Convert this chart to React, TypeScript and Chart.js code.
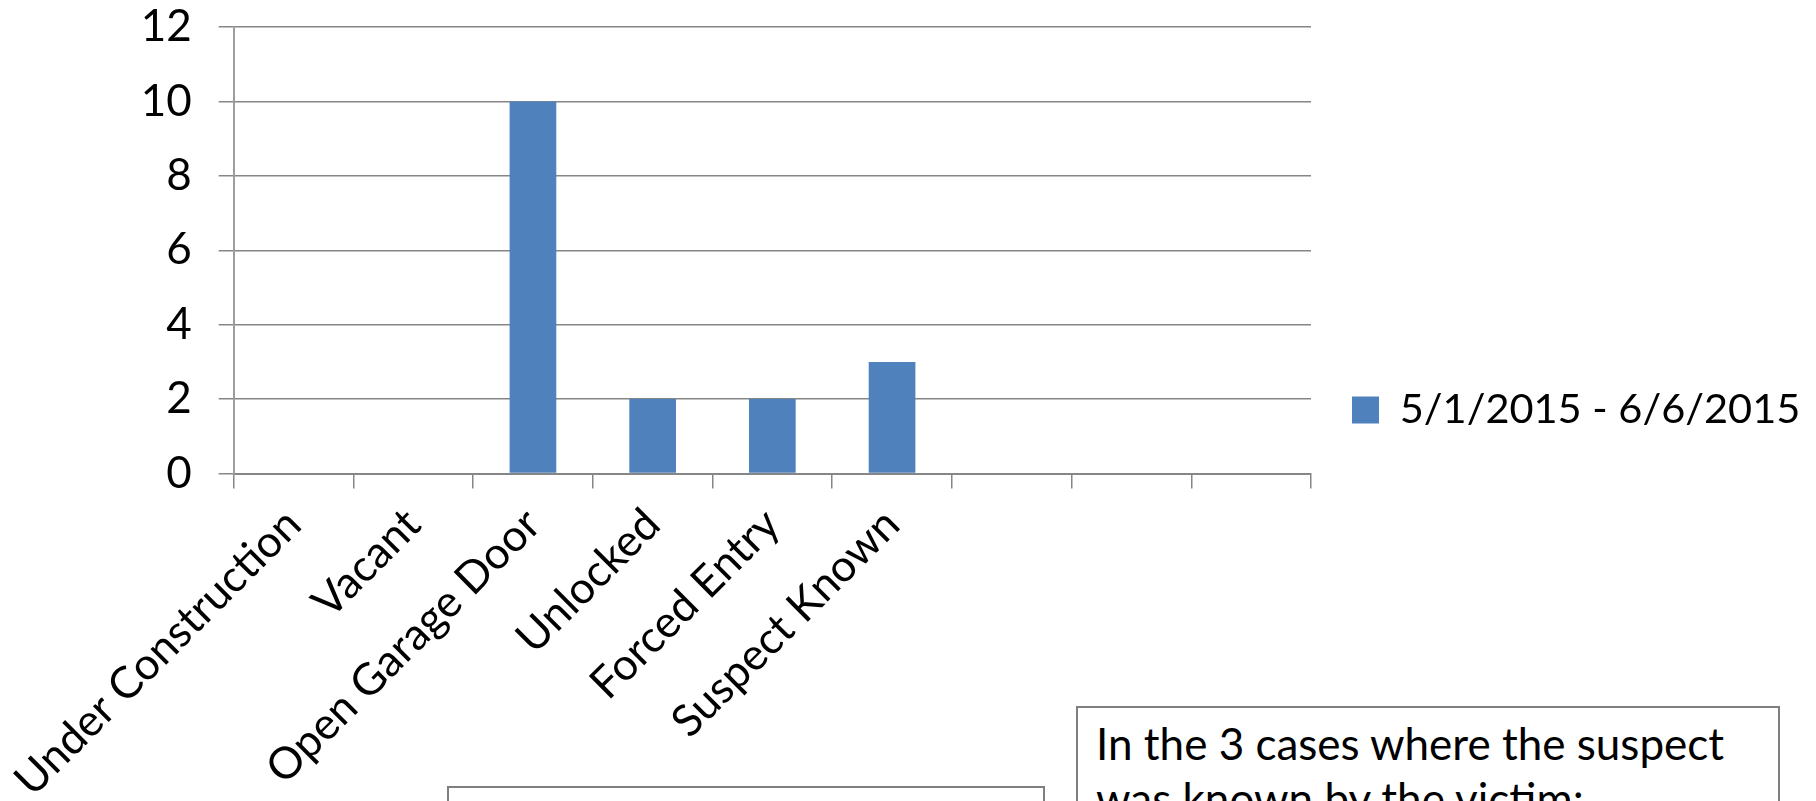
import React, { useEffect, useRef } from "react";
import { Chart, registerables } from "chart.js";

Chart.register(...registerables);

const categories: string[] = [
  "Under Construction",
  "Vacant",
  "Open Garage Door",
  "Unlocked",
  "Forced Entry",
  "Suspect Known",
  "",
  "",
  "",
];
const seriesLabel = "5/1/2015 - 6/6/2015";
const seriesValues: (number | null)[] = [0, 0, 10, 2, 2, 3, null, null, null];
const yMin = 0;
const yMax = 12;
const yStep = 2;
const noteLines: string[] = ["In the 3 cases where the suspect", "was known by the victim:"];

const FONT = "Lato, 'Open Sans', sans-serif";

export default function App() {
  const ref = useRef<HTMLCanvasElement | null>(null);

  useEffect(() => {
    if (!ref.current) return;
    const chart = new Chart(ref.current, {
      type: "bar",
      data: {
        labels: categories,
        datasets: [
          {
            label: seriesLabel,
            data: seriesValues,
            backgroundColor: "#4F81BD",
            borderWidth: 0,
            barPercentage: 0.39,
            categoryPercentage: 1,
          },
        ],
      },
      options: {
        animation: false,
        responsive: false,
        devicePixelRatio: 1,
        layout: { padding: { top: 0, left: 0, bottom: 0, right: 9 } },
        plugins: {
          legend: {
            position: "right",
            maxWidth: 496,
            labels: {
              boxWidth: 27,
              boxHeight: 27,
              padding: 41,
              color: "#000",
              font: { family: FONT, size: 41.5 },
            },
          },
          tooltip: { enabled: false },
        },
        scales: {
          x: {
            grid: {
              drawOnChartArea: false,
              drawTicks: true,
              tickLength: 15,
              color: "#868686",
              lineWidth: 1.5,
              offset: true,
            },
            border: { color: "#868686", width: 2 },
            ticks: {
              minRotation: 45,
              maxRotation: 45,
              autoSkip: false,
              color: "#000",
              padding: 10,
              font: { family: FONT, size: 44 },
            },
            afterFit: (s: any) => {
              s.height = 820 - 473.5;
            },
          },
          y: {
            min: yMin,
            max: yMax,
            ticks: {
              stepSize: yStep,
              color: "#000",
              padding: 27,
              font: { family: FONT, size: 44, lineHeight: 0 },
            },
            grid: { color: "#868686", lineWidth: 1.5, tickLength: 15 },
            border: { color: "#9d9d9d", width: 2 },
            afterFit: (s: any) => {
              s.width = 231;
            },
          },
        },
      },
    });
    return () => chart.destroy();
  }, []);

  return (
    <div
      style={{
        position: "fixed",
        left: 0,
        top: 0,
        width: 1816,
        height: 801,
        overflow: "hidden",
        background: "#fff",
      }}
    >
      <canvas ref={ref} width={1816} height={820} style={{ position: "absolute", left: 0, top: 0 }} />
      <div
        style={{
          position: "absolute",
          left: 447,
          top: 786,
          width: 598,
          height: 200,
          border: "2px solid #7f7f7f",
          boxSizing: "border-box",
          background: "#fff",
        }}
      />
      <div
        style={{
          position: "absolute",
          left: 1076,
          top: 706,
          width: 704,
          height: 300,
          border: "2px solid #7f7f7f",
          boxSizing: "border-box",
          background: "#fff",
          padding: "8px 0 0 18px",
          fontFamily: FONT,
          fontSize: 44,
          lineHeight: 1.25,
          color: "#000",
          whiteSpace: "nowrap",
        }}
      >
        {noteLines.map((l, i) => (
          <div key={i}>{l}</div>
        ))}
      </div>
    </div>
  );
}
